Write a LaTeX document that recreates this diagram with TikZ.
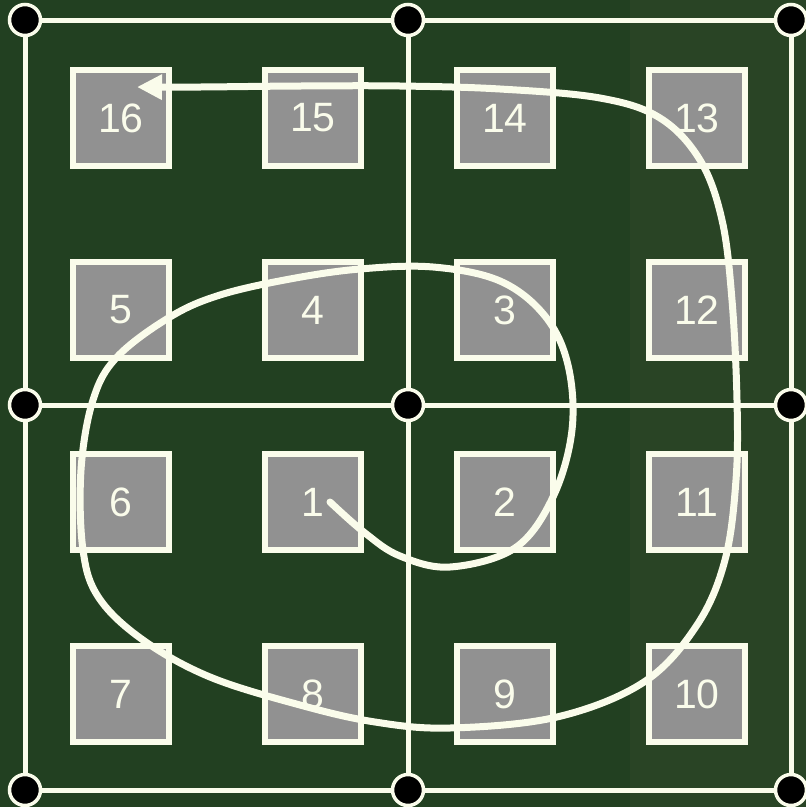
\documentclass[tikz,border=0pt]{standalone}
\usepackage{fontspec}
\setmainfont{Liberation Sans}
\usepackage{xcolor}
\definecolor{board}{RGB}{ 34,  64,  33}
\definecolor{boardlt}{RGB}{ 41,  68,  37}
\definecolor{ivory}{RGB}{250, 252, 235}
\definecolor{tile}{RGB}{145, 145, 145}
\usepackage{tikz}
\usetikzlibrary{arrows.meta, positioning}

\begin{document}
\begin{tikzpicture}[x=1pt, y=-1pt,
  cell/.style={draw=ivory, fill=tile, line width=6pt,
    minimum size=96pt, inner sep=0pt, text=ivory,
    font=\fontsize{41}{41}\selectfont},
  joint/.style={circle, draw=ivory, fill=black, line width=3.5pt,
    minimum size=31pt, inner sep=0pt},
  wire/.style={draw=ivory, line width=5pt},
  route/.style={draw=ivory, line width=7pt, line cap=round,
    -{Triangle[length=25pt, width=24pt]}}]

  \useasboundingbox (0,0) rectangle (806,807);
  \fill[board] (0,0) rectangle (806,807);
  \fill[boardlt] (630,0) rectangle (806,807);

  % corner joints
  \node[joint] (j11) at (25,20) {};
  \node[joint] (j12) at (408,20) {};
  \node[joint] (j13) at (791,20) {};
  \node[joint] (j21) at (25,405) {};
  \node[joint] (j22) at (408,405) {};
  \node[joint] (j23) at (791,405) {};
  \node[joint] (j31) at (25,790) {};
  \node[joint] (j32) at (408,790) {};
  \node[joint] (j33) at (791,790) {};

  \draw[wire] (j11) -- (j12);
  \draw[wire] (j12) -- (j13);
  \draw[wire] (j21) -- (j22);
  \draw[wire] (j22) -- (j23);
  \draw[wire] (j31) -- (j32);
  \draw[wire] (j32) -- (j33);
  \draw[wire] (j11) -- (j21);
  \draw[wire] (j21) -- (j31);
  \draw[wire] (j12) -- (j22);
  \draw[wire] (j22) -- (j32);
  \draw[wire] (j13) -- (j23);
  \draw[wire] (j23) -- (j33);

  % tiles
  \node[cell] (c16) at (121,118) {16};
  \node[cell, right=90pt of c16] (c15) {15};
  \node[cell, right=90pt of c15] (c14) {14};
  \node[cell, right=90pt of c14] (c13) {13};
  \node[cell, below=90pt of c16] (c5) {5};
  \node[cell, right=90pt of c5] (c4) {4};
  \node[cell, right=90pt of c4] (c3) {3};
  \node[cell, right=90pt of c3] (c12) {12};
  \node[cell, below=90pt of c5] (c6) {6};
  \node[cell, right=90pt of c6] (c1) {1};
  \node[cell, right=90pt of c1] (c2) {2};
  \node[cell, right=90pt of c2] (c11) {11};
  \node[cell, below=90pt of c6] (c7) {7};
  \node[cell, right=90pt of c7] (c8) {8};
  \node[cell, right=90pt of c8] (c9) {9};
  \node[cell, right=90pt of c9] (c10) {10};

  % spiral route
  \coordinate (start) at (330,502);
  \coordinate (tip) at (137,87);
  \draw[route] plot[smooth, tension=0.6] coordinates {
    (start) (365,533) (400,556) (450,567) (515,548) (553,497)
    (572,430) (568,365) (545,316) (500,281) (433,267) (360,269)
    (290,279) (220,295) (170,317) (117,357) (93,400) (81,470)
    (83,550) (99,598) (143,640) (210,677) (300,705) (375,722)
    (450,728) (557,717) (644,682) (697,625) (725,560) (736,480)
    (737,400) (732,300) (722,220) (700,160) (660,118) (600,98)
    (500,89) (400,86) (300,86) (200,87) (tip)};

\end{tikzpicture}
\end{document}
